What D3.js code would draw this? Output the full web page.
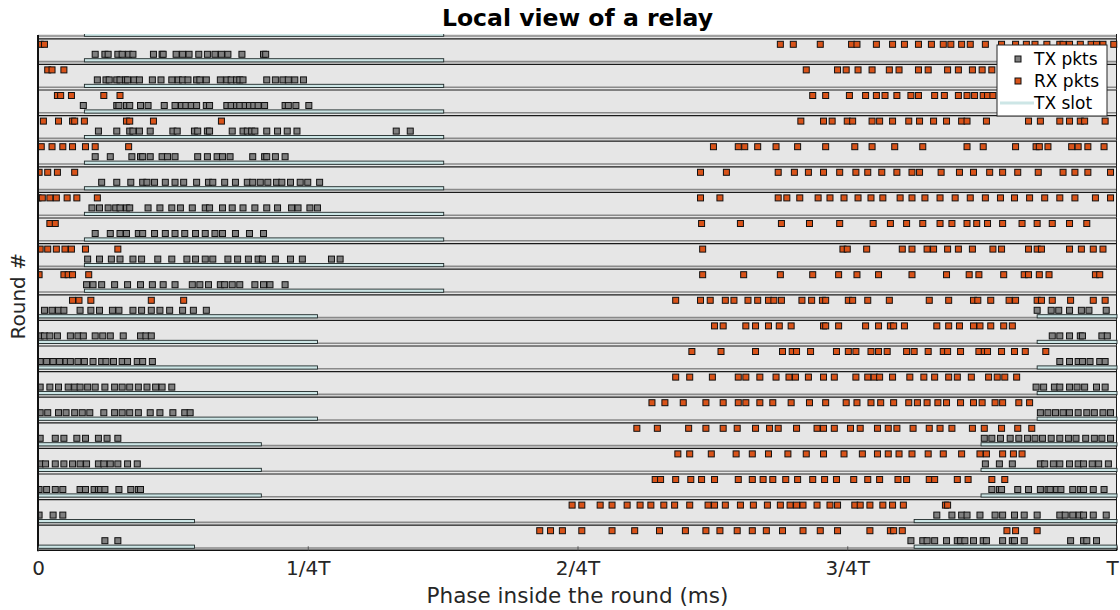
<!DOCTYPE html>
<html><head><meta charset="utf-8">
<script src="https://cdn.jsdelivr.net/npm/d3@7"></script>
<style>body{margin:0;background:#fff}svg{display:block}</style>
</head><body>
<svg id="c" width="1120" height="610"></svg>
<script>
// ---- data (phase in per-mille of the round period T) ----
const tickValues = [0, 250, 500, 750, 1000];
const tickLabels = ["0", "1/4T", "2/4T", "3/4T", "T"];
const slotLength = 333;
const slotStart = [43,43,43,43,43,43,43,43,43,43, 926,926,926,926,926, 874,874,874, 812,812];

const txPkts = [
[53,62,65,74,78,84,88,107,115,116,128,134,140,149,157,164,170,176,189,209,211],
[55,63,66,73,76,81,83,89,94,106,114,124,130,134,139,147,150,156,169,175,179,184,187,190,212,220,227,232,238,246],
[42,73,75,82,85,95,102,117,127,133,137,142,147,156,159,175,179,184,187,192,196,200,204,210,229,232,239,251],
[56,73,85,88,94,104,125,129,145,148,157,159,180,190,194,198,201,212,222,231,240,332,345],
[53,67,87,95,97,104,115,120,127,148,157,166,171,178,199,210,212,220,229],
[59,73,86,97,101,108,118,127,135,147,158,162,173,183,194,199,206,213,221,226,234,243,250,261],
[50,57,65,72,76,82,85,102,113,124,132,143,155,159,171,180,190,201,212,222,235,241,252,259],
[53,67,76,82,93,97,108,118,127,136,146,155,164,171,183,196,209],
[46,57,68,76,88,96,111,124,138,146,155,162,176,185,195,204,208,220,234,245,272,280],
[45,51,59,71,83,95,106,116,127,143,150,158,169,173,180,187,201,209,215,229],
[6,13,19,24,39,49,57,69,75,88,96,105,113,122,134,144,156,926,939,946,956,967,974,990],
[2,6,11,18,30,37,42,53,60,67,79,95,100,105,940,947,956,966,968,986,991],
[2,8,14,20,26,30,37,43,51,59,63,70,78,83,92,97,106,947,956,964,968,975,984,989],
[2,11,19,28,34,39,46,53,62,71,78,85,93,101,109,115,124,925,932,942,947,956,963,970,981,989],
[2,9,19,26,34,41,48,61,71,78,85,93,104,113,125,136,141,929,936,943,950,956,964,972,979,987,994],
[2,16,24,36,44,56,64,74,877,884,892,901,909,917,924,931,939,947,955,962,971,979,986,994],
[2,7,16,24,32,39,45,56,61,67,74,83,92,878,891,903,929,933,941,947,956,964,969,977,983,992],
[1,8,16,23,39,44,52,56,58,62,75,86,93,95,884,891,893,908,918,929,936,938,944,948,959,966,969,978,988],
[1,14,23,833,847,856,861,873,887,894,905,914,926,947,952,959,965,969,978,990],
[62,74,809,820,824,831,842,852,855,859,867,876,879,894,903,905,914,957,969,972,981]
];

const rxPkts = [
[2,6,688,700,725,754,759,777,792,803,816,828,839,846,856,864,878,893,906,916,924,935,947,950,956,966,976,981,987,997],
[9,13,24,712,741,749,760,773,789,798,816,825,843,853,866,875,884],
[18,21,31,61,76,718,730,752,767,777,785,796,809,816,831,840,853,861,868,876,880,885],
[5,19,32,34,43,82,85,107,170,707,728,736,750,755,773,780,792,807,817,830,842,856,861,879,918,929,947,956,966,970,989],
[3,13,23,32,44,53,84,626,649,655,667,684,704,730,757,773,794,820,861,876,906,925,928,936,958,964,973,988],
[1,9,18,34,614,638,686,701,714,728,743,758,769,782,796,810,817,837,854,867,882,894,908,927,950,961,973,994],
[0,4,11,17,27,36,55,614,632,686,694,706,723,734,747,760,772,783,799,810,822,836,850,864,878,892,905,919,933,947,961,980,994],
[11,16,615,651,689,715,743,774,790,805,820,836,847,861,870,880,894,912,926,940,956,972],
[2,9,17,25,31,44,74,616,746,750,768,801,810,824,830,843,853,866,885,893,918,926,930,956,967,978,987],
[1,24,28,32,47,616,654,688,718,742,759,779,810,842,863,872,895,914,918,928,937,980,984],
[32,38,49,105,135,591,614,623,637,645,658,667,677,682,689,708,717,727,730,751,755,769,789,826,844,867,871,883,900,906,926,930,940,957,978,989],
[627,635,656,665,677,687,698,728,730,742,767,779,790,793,803,833,844,854,867,873,883,895,903],
[606,633,665,690,699,703,716,740,751,758,772,779,787,805,812,825,839,843,855,872,877,880,893,905,915,934],
[591,604,625,649,656,669,684,696,702,714,728,738,758,769,775,780,792,808,821,831,844,852,865,881,889,896,907],
[569,581,598,619,635,649,656,669,681,698,715,730,749,759,772,781,793,807,815,824,834,842,855,867,875,887,894,909,919],
[555,574,603,619,635,648,665,678,686,703,722,728,738,753,762,778,788,796,811,826,836,847,866,877,893,908,921],
[593,604,624,647,662,677,695,712,728,747,764,778,788,798,810,825,839,856,873,879,894,904,912],
[572,577,591,605,615,627,649,662,672,681,693,704,718,729,740,756,769,780,797,805,826,831,852,862,884,896],
[495,504,521,532,546,558,568,580,590,604,621,627,637,651,663,676,688,697,703,709,722,734,741,757,762,771,783,792,802,841,843],
[465,475,486,504,532,553,576,600,619,632,648,662,675,690,709,725,741,771,790,793,801,898,906,926]
];

// ---- layout ----
const plotL = 38, plotR = 1117, plotT = 38.3, plotB = 550.3;
const nRounds = txPkts.length;
const svg = d3.select("#c");
const font = "DejaVu Sans, sans-serif";

const x = d3.scaleLinear().domain([0, 1000]).range([plotL, plotR]);
const y = d3.scaleLinear().domain([0, nRounds]).range([plotT, plotB]);
const rowH = y(1) - y(0);

const TXC = "#7f7f7f", RXC = "#d95319", SLOTC = "#cde6e6", BG = "#e6e6e6";

svg.append("clipPath").attr("id", "plotclip")
  .append("rect").attr("x", plotL).attr("y", 34).attr("width", plotR - plotL + 1).attr("height", plotB - 34 + 1);

const g = svg.append("g").attr("clip-path", "url(#plotclip)");

function slotSegments(s) {
  const e = s + slotLength;
  if (e <= 1000) return [[s, e]];
  return [[0, e - 1000], [s, 1000]];
}

const rowIdx = d3.range(-1, nRounds);
const rows = g.selectAll("g.row").data(rowIdx).join("g").attr("class", "row")
  .attr("transform", r => `translate(0,${y(r)})`);

rows.append("rect").attr("x", plotL).attr("y", 0).attr("width", plotR - plotL).attr("height", rowH)
  .attr("fill", BG);
rows.append("line").attr("x1", plotL).attr("x2", plotR).attr("y1", 0.5).attr("y2", 0.5)
  .attr("stroke", "#1a1a1a").attr("stroke-width", 1.2);
rows.append("line").attr("x1", plotL).attr("x2", plotR).attr("y1", rowH - 2.3).attr("y2", rowH - 2.3)
  .attr("stroke", "#8a8a8a").attr("stroke-width", 1.6);
rows.append("line").attr("x1", plotR - 0.5).attr("x2", plotR - 0.5).attr("y1", 0).attr("y2", rowH)
  .attr("stroke", "#1a1a1a").attr("stroke-width", 1);

rows.each(function(r) {
  const gr = d3.select(this);
  const s = slotStart[Math.max(r, 0)];
  gr.selectAll("rect.slot").data(slotSegments(s)).join("rect").attr("class", "slot")
    .attr("x", d => x(d[0])).attr("width", d => x(d[1]) - x(d[0]))
    .attr("y", rowH - 5.2).attr("height", 3.2)
    .attr("fill", SLOTC).attr("stroke", "#1f2a2a").attr("stroke-width", 0.9);
  if (r < 0) return;
  gr.selectAll("rect.rx").data(rxPkts[r]).join("rect").attr("class", "rx")
    .attr("x", d => x(d) - 3).attr("y", 3).attr("width", 6).attr("height", 6)
    .attr("fill", RXC).attr("stroke", "#111").attr("stroke-width", 1);
  gr.selectAll("rect.tx").data(txPkts[r]).join("rect").attr("class", "tx")
    .attr("x", d => x(d) - 3).attr("y", 13).attr("width", 6).attr("height", 6)
    .attr("fill", TXC).attr("stroke", "#111").attr("stroke-width", 1);
});

// left spine and bottom
svg.append("line").attr("x1", plotL).attr("x2", plotL).attr("y1", 35).attr("y2", plotB + 1)
  .attr("stroke", "#111").attr("stroke-width", 2);
svg.append("line").attr("x1", plotL).attr("x2", plotR).attr("y1", plotB).attr("y2", plotB)
  .attr("stroke", "#111").attr("stroke-width", 1.5);

// x axis
const xAxis = d3.axisBottom(x).tickValues(tickValues).tickFormat((d, i) => tickLabels[i])
  .tickSizeInner(-4).tickSizeOuter(0).tickPadding(11);
const ax = svg.append("g").attr("transform", `translate(0,${plotB})`).call(xAxis);
ax.select(".domain").remove();
ax.selectAll(".tick line").attr("stroke", "#555");
ax.selectAll(".tick text").attr("font-family", font).attr("font-size", 20).attr("fill", "#262626")
  .attr("dx", (d, i) => i === tickValues.length - 1 ? -5 : 0);

// labels
svg.append("text").attr("x", (plotL + plotR) / 2).attr("y", 26).attr("text-anchor", "middle")
  .attr("font-family", font).attr("font-weight", "bold").attr("font-size", 23.5).attr("fill", "#000")
  .text("Local view of a relay");
svg.append("text").attr("x", (plotL + plotR) / 2).attr("y", 603).attr("text-anchor", "middle")
  .attr("font-family", font).attr("font-size", 21.5).attr("fill", "#262626")
  .text("Phase inside the round (ms)");
svg.append("text").attr("transform", `translate(25,${(plotT + plotB) / 2 + 2}) rotate(-90)`)
  .attr("text-anchor", "middle").attr("font-family", font).attr("font-size", 20).attr("fill", "#262626")
  .text("Round #");

// legend
const lg = svg.append("g").attr("transform", "translate(997,45)");
lg.append("rect").attr("width", 110).attr("height", 71).attr("fill", "#fff").attr("stroke", "#262626").attr("stroke-width", 1);
const legendItems = [{label: "TX pkts", type: "tx"}, {label: "RX pkts", type: "rx"}, {label: "TX slot", type: "slot"}];
legendItems.forEach((it, i) => {
  const cy = 14 + i * 22;
  if (it.type === "slot") {
    lg.append("line").attr("x1", 3).attr("x2", 37).attr("y1", cy).attr("y2", cy)
      .attr("stroke", SLOTC).attr("stroke-width", 3);
  } else {
    lg.append("rect").attr("x", 18).attr("y", cy - 3).attr("width", 6).attr("height", 6)
      .attr("fill", it.type === "tx" ? TXC : RXC).attr("stroke", "#111").attr("stroke-width", 1);
  }
  lg.append("text").attr("x", 37).attr("y", cy + 6).attr("font-family", font).attr("font-size", 17)
    .attr("fill", "#000").text(it.label);
});
</script>
</body></html>
